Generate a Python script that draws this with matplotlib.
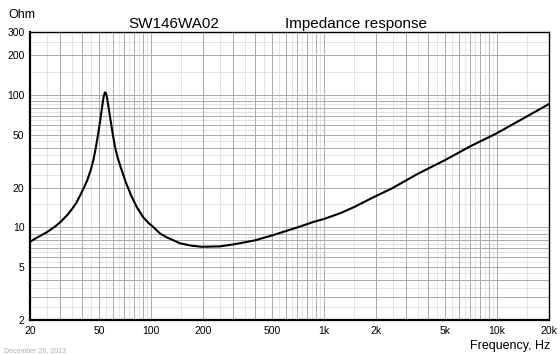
import numpy as np
import matplotlib
matplotlib.use('Agg')
import matplotlib.pyplot as plt

plt.rcParams['font.family'] = ['Liberation Sans', 'DejaVu Sans']

# Impedance curve (Hz, Ohm)
freq = [20, 22, 25, 28, 30, 33, 35, 37, 39, 41, 43, 45, 46.5, 48, 49.6, 50.8,
        51.9, 52.8, 53.5, 54.3, 55, 55.8, 57, 58, 60, 62, 64.5, 67.7, 72, 77.4,
        83, 90, 97, 103, 113, 124, 135, 147, 170, 196, 250, 300, 400, 509, 700,
        867, 1000, 1239, 1500, 1928, 2464, 3500, 5012, 7000, 9970, 14000, 20000]
imp = [7.8, 8.4, 9.2, 10.2, 11.0, 12.5, 13.8, 15.3, 17.5, 20, 23, 27.5, 32.3, 40,
       51.4, 63, 77, 90, 100, 105, 103, 95, 80, 68.7, 52, 40.7, 33, 27.2, 21.5,
       17.1, 14.2, 12.0, 10.8, 10.1, 9.0, 8.4, 8.0, 7.6, 7.3, 7.15, 7.2, 7.45,
       8.0, 8.76, 10.0, 11.0, 11.6, 12.8, 14.3, 16.9, 19.7, 25.5, 32.3, 41.0,
       51.5, 66.0, 85.7]

xticks = [20, 50, 100, 200, 500, 1000, 2000, 5000, 10000, 20000]
xlabels = ['20', '50', '100', '200', '500', '1k', '2k', '5k', '10k', '20k']
yticks = [2, 5, 10, 20, 50, 100, 200, 300]
ylabels = ['2', '5', '10', '20', '50', '100', '200', '300']

fig = plt.figure(figsize=(5.6, 3.54), dpi=100)
ax = fig.add_axes([30/560, 1-320/354, 519/560, 288/354])
ax.set_xscale('log')
ax.set_yscale('log')
ax.set_xlim(20, 20000)
ax.set_ylim(2, 300)

# grid: dark lines on 1..9 multiples, light ones on the half steps
for dec in [10, 100, 1000, 10000]:
    for m in range(1, 10):
        f = m * dec
        if 20 < f < 20000:
            ax.axvline(f, color='#aaaaaa', lw=0.7, zorder=1)
        fh = (m + 0.5) * dec
        if 20 < fh < 20000:
            ax.axvline(fh, color='#e4e4e4', lw=0.7, zorder=0)
for dec in [1, 10, 100]:
    for m in range(1, 10):
        v = m * dec
        if 2 < v < 300:
            ax.axhline(v, color='#aaaaaa', lw=0.7, zorder=1)
        vh = (m + 0.5) * dec
        if 2 < vh < 300:
            ax.axhline(vh, color='#e4e4e4', lw=0.7, zorder=0)

ax.plot(freq, imp, color='black', lw=1.5, zorder=3)

ax.set_xticks(xticks)
ax.set_xticklabels(xlabels)
ax.set_yticks(yticks)
ax.set_yticklabels(ylabels)
ax.minorticks_off()
ax.tick_params(length=0, labelsize=7.5, pad=4)

for s in ['left', 'bottom']:
    ax.spines[s].set_linewidth(1.6)
for s in ['top', 'right']:
    ax.spines[s].set_linewidth(1.0)

fig.text(128/560, 1-28/354, 'SW146WA02', fontsize=11)
fig.text(285/560, 1-28/354, 'Impedance response', fontsize=11)
fig.text(8/560, 1-18/354, 'Ohm', fontsize=9)
fig.text(550/560, 1-349/354, 'Frequency, Hz', fontsize=9, ha='right')
fig.text(4/560, 1-352/354, 'December 26, 2013', fontsize=5, color='#b0b0b0')

fig.savefig('out.png', dpi=100)
